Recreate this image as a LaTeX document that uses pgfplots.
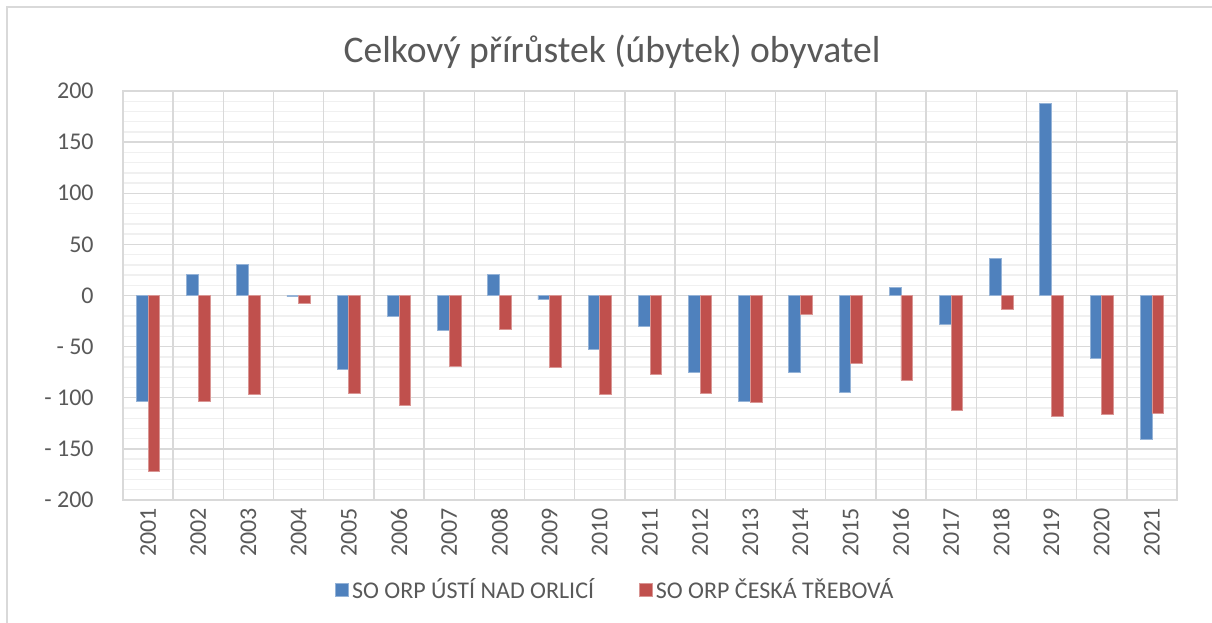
\documentclass[border=0pt]{standalone}
\usepackage{fontspec}
\setmainfont{Carlito}
\usepackage{pgfplots}
\pgfplotsset{compat=1.18}

\definecolor{ustiblue}{HTML}{4F81BD}
\definecolor{trebred}{HTML}{C0504D}
\definecolor{txtgray}{HTML}{595959}
\definecolor{gridmaj}{HTML}{D9D9D9}
\definecolor{gridmin}{HTML}{F0F0F0}

% total population gain/loss per year
\pgfplotstableread{
year usti trebova
2001 -104 -172
2002   21 -104
2003   30  -97
2004   -1   -8
2005  -72  -96
2006  -20 -107
2007  -34  -69
2008   21  -33
2009   -4  -70
2010  -53  -97
2011  -30  -77
2012  -75  -96
2013 -104 -105
2014  -75  -18
2015  -95  -66
2016    8  -83
2017  -28 -112
2018   36  -14
2019  188 -118
2020  -62 -116
2021 -141 -115
}\zmena

\begin{document}
\begin{tikzpicture}
\path[use as bounding box] (0,0) rectangle (606bp,311.5bp);
% chart frame (only left and top edge visible)
\draw[gridmaj, line width=1bp] (3.5bp,0) -- (3.5bp,308bp) -- (606bp,308bp);

\node[font=\fontsize{18.8bp}{22bp}\selectfont, text=txtgray] at (306bp,285.5bp)
  {Celkový přírůstek (úbytek) obyvatel};

\begin{axis}[
    at={(61.5bp,61.5bp)}, anchor=south west,
    scale only axis,
    width=527bp, height=204.5bp,
    ybar=0pt, bar width=5.85bp,
    xmin=2000.5, xmax=2021.5,
    ymin=-200, ymax=200,
    xtick={2001,...,2021},
    ytick={-200,-150,...,200},
    yticklabels={- 200,- 150,- 100,- 50,0,50,100,150,200},
    minor y tick num=4,
    major tick length=0pt, minor tick length=0pt,
    /pgf/number format/assume math mode=true,
    /pgf/number format/1000 sep={},
    ymajorgrids, yminorgrids,
    major grid style={gridmaj, line width=0.7bp},
    minor grid style={gridmin, line width=0.7bp},
    extra x ticks={2000.5,2001.5,2002.5,2003.5,2004.5,2005.5,2006.5,2007.5,2008.5,2009.5,2010.5,2011.5,2012.5,2013.5,2014.5,2015.5,2016.5,2017.5,2018.5,2019.5,2020.5,2021.5},
    extra x tick labels={},
    extra x tick style={grid=major, major grid style={gridmaj, line width=0.7bp}},
    axis line style={gridmaj, line width=0.7bp},
    tick label style={font=\fontsize{12bp}{14bp}\selectfont, text=txtgray},
    xticklabel style={rotate=90, anchor=east, inner sep=0pt},
    xticklabel shift=3.75bp,
    yticklabel style={anchor=east, inner sep=0pt},
    yticklabel shift=14.5bp,
    legend columns=2,
    legend style={at={(0.4677,-0.22)}, anchor=center, draw=none, fill=none,
      font=\fontsize{12bp}{14bp}\selectfont, text=txtgray,
      nodes={inner sep=1.5bp},
      /tikz/every even column/.append style={column sep=21bp}},
    legend image code/.code={\fill[#1] (0bp,-3.25bp) rectangle (6.5bp,3.25bp);},
]
\addplot[fill=ustiblue, draw=ustiblue!60!white, line width=0.4bp]
  table[x=year, y=usti] {\zmena};
\addplot[fill=trebred, draw=trebred!60!white, line width=0.4bp]
  table[x=year, y=trebova] {\zmena};
\legend{SO ORP ÚSTÍ NAD ORLICÍ, SO ORP ČESKÁ TŘEBOVÁ}
\end{axis}
\end{tikzpicture}
\end{document}
